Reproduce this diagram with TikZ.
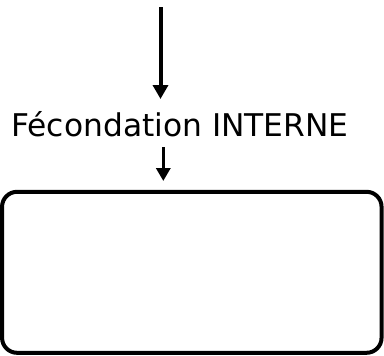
\documentclass[tikz,border=0pt]{standalone}
\usepackage{fontspec}
\setmainfont{DejaVu Sans}
\usetikzlibrary{arrows.meta, positioning}

\begin{document}
\begin{tikzpicture}[x=1pt, y=-1pt,
    fleche/.style={-{Triangle[length=14pt, width=15pt]}, line width=4pt},
    petitefleche/.style={-{Triangle[length=13pt, width=14pt]}, line width=3.3pt},
    boite/.style={draw, line width=4pt, rounded corners=15pt, minimum width=379.5pt, minimum height=161pt}]
\useasboundingbox (0,0) rectangle (384,356);
% Arrow from above
\coordinate (haut) at (160.5,7);
\coordinate (bas) at (160.5,99);
\draw[fleche] (haut) -- (bas);

% Label
\node[inner sep=0pt, anchor=base] (fec) at (180,136) {\fontsize{31.3}{36}\selectfont Fécondation INTERNE};

% Empty box below
\node[boite] (boite) at (191.8,272.3) {};
\coordinate (depart) at (163.3,147);
\coordinate (arrivee) at (163.3,181);
\draw[petitefleche] (depart) -- (arrivee);
\end{tikzpicture}
\end{document}
